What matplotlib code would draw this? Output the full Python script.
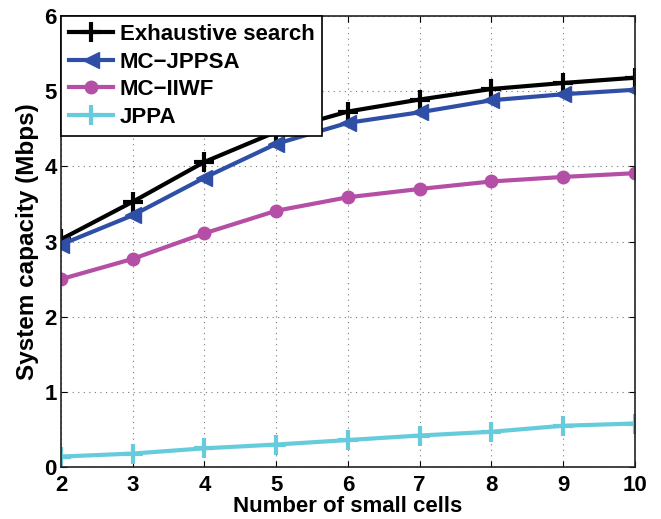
import numpy as np
import matplotlib.pyplot as plt

plt.rcParams['font.family'] = ['Liberation Sans', 'DejaVu Sans']
plt.rcParams['font.weight'] = 'bold'

cells = [2, 3, 4, 5, 6, 7, 8, 9, 10]
exhaustive = [3.03, 3.53, 4.06, 4.46, 4.73, 4.89, 5.03, 5.11, 5.18]
mc_jppsa = [2.96, 3.35, 3.85, 4.30, 4.58, 4.72, 4.88, 4.96, 5.02]
mc_iiwf = [2.50, 2.77, 3.11, 3.41, 3.59, 3.70, 3.80, 3.86, 3.91]
jppa = [0.14, 0.18, 0.25, 0.30, 0.36, 0.42, 0.47, 0.55, 0.58]

fig = plt.figure(figsize=(6.61, 5.19), dpi=100)
ax = fig.add_axes([0.0923, 0.100, 0.868, 0.869])

ax.plot(cells, exhaustive, color='black', lw=3, marker='+', ms=14, mew=3,
        label='Exhaustive search')
ax.plot(cells, mc_jppsa, color='#2f4fa6', lw=3, marker='<', ms=12,
        label='MC\u2212JPPSA')
ax.plot(cells, mc_iiwf, color='#b54fa6', lw=3, marker='o', ms=9,
        label='MC\u2212IIWF')
ax.plot(cells, jppa, color='#66ccdc', lw=3, marker='+', ms=14, mew=3,
        label='JPPA')

ax.set_xlim(2, 10)
ax.set_ylim(0, 6)
ax.set_xticks(cells)
ax.set_yticks(range(0, 7))
ax.grid(True, linestyle=(0, (1, 4)), color='#777777', lw=0.8)
ax.tick_params(direction='in', labelsize=16, length=4, top=True, right=True, pad=3)
ax.tick_params(axis='x', pad=6)
for s in ax.spines.values():
    s.set_linewidth(1.2)
    s.set_color('#222222')

ax.set_xlabel('Number of small cells', fontsize=16, fontweight='bold', labelpad=0)
ax.set_ylabel('System capacity (Mbps)', fontsize=17.5, fontweight='bold', labelpad=4)

leg = ax.legend(loc='upper left', fontsize=16, frameon=True, fancybox=False,
                edgecolor='black', framealpha=1, borderaxespad=0,
                handlelength=2.0, handletextpad=0.3, labelspacing=0.3,
                borderpad=0.35)
leg.get_frame().set_linewidth(1.2)

fig.savefig('out.png', dpi=100)
